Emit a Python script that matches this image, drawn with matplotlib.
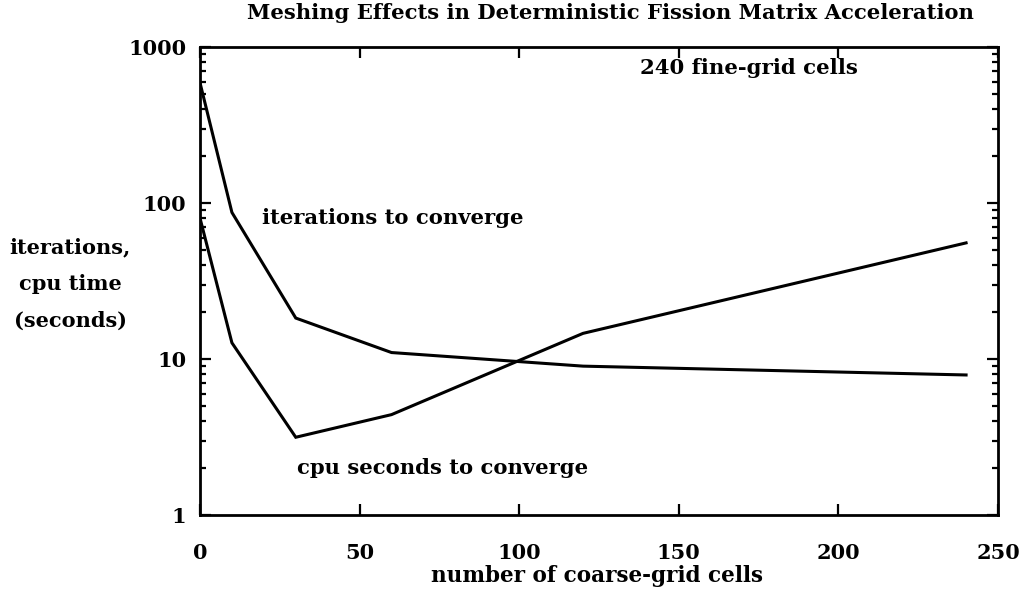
import matplotlib
matplotlib.use("Agg")
import matplotlib.pyplot as plt
from matplotlib.ticker import FixedLocator, FixedFormatter, LogLocator, NullFormatter

# Data
cells = [0, 10, 30, 60, 120, 240]
iterations = [590, 87, 18.3, 11.0, 9.0, 7.9]
cpu_seconds = [80, 12.7, 3.15, 4.4, 14.6, 55.5]

x_ticks = [0, 50, 100, 150, 200, 250]
y_ticks = [1, 10, 100, 1000]
y_tick_labels = ["1", "10", "100", "1000"]

title = "Meshing Effects in Deterministic Fission Matrix Acceleration"
xlabel = "number of coarse-grid cells"
ylabel = "iterations,\ncpu time\n(seconds)"

plt.rcParams['font.family'] = ['DejaVu Serif']
plt.rcParams['font.weight'] = 'bold'

fig = plt.figure(figsize=(10.19, 5.90), dpi=100)
ax = fig.add_axes([200/1019, 1-515/590, 798/1019, 468/590])

ax.plot(cells, iterations, color='black', lw=2.2, solid_joinstyle='miter')
ax.plot(cells, cpu_seconds, color='black', lw=2.2, solid_joinstyle='miter')

ax.set_yscale('log')
ax.set_xlim(0, 250)
ax.set_ylim(1, 1000)

ax.xaxis.set_major_locator(FixedLocator(x_ticks))
ax.yaxis.set_major_locator(FixedLocator(y_ticks))
ax.yaxis.set_major_formatter(FixedFormatter(y_tick_labels))
ax.yaxis.set_minor_locator(LogLocator(base=10, subs=range(2, 10)))
ax.yaxis.set_minor_formatter(NullFormatter())

ax.tick_params(which='both', direction='in', top=True, right=True, width=1.6, colors='black')
ax.tick_params(which='major', length=8, labelsize=15)
ax.tick_params(axis='x', which='major', pad=20)
ax.tick_params(axis='y', which='major', pad=10)
ax.tick_params(which='minor', length=4)
for s in ax.spines.values():
    s.set_linewidth(2.0)

for lab in ax.get_xticklabels() + ax.get_yticklabels():
    lab.set_fontweight('bold')

fig.text(610/1019, 1-13/590, title, ha='center', va='center', fontsize=15.2, fontweight='bold')
fig.text(597/1019, 1-576/590, xlabel, ha='center', va='center', fontsize=15.5, fontweight='bold')
fig.text(70/1019, 1-284/590, ylabel, ha='center', va='center', fontsize=15, fontweight='bold',
         linespacing=2.05, multialignment='center')

ax.text(138, 733, "240 fine-grid cells", ha='left', va='center', fontsize=15.3, fontweight='bold')
ax.text(19.5, 80, "iterations to converge", ha='left', va='center', fontsize=15.2, fontweight='bold')
ax.text(30.5, 2.0, "cpu seconds to converge", ha='left', va='center', fontsize=15.2, fontweight='bold')

fig.savefig("out.png", dpi=100, facecolor='white')
